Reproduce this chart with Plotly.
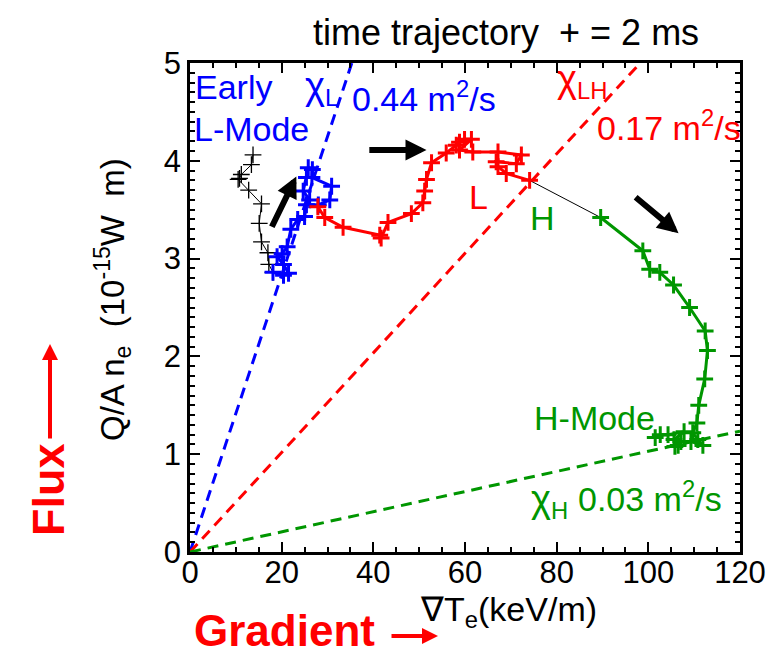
import plotly.graph_objects as go

# ---------------- data ----------------
black_x = [13.75, 13.4, 11.2, 10.8, 10.5, 12.8, 15.6, 15.1, 15.6, 17.0, 17.2, 18.1]
black_y = [4.06, 3.96, 3.86, 3.82, 3.81, 3.70, 3.56, 3.36, 3.17, 3.06, 2.94, 2.86]

blue_x = [18.1, 20.4, 21.5, 20.4, 19.0, 20.1, 21.2, 22.0, 23.5, 25.0, 25.4, 26.1,
          24.7, 25.4, 25.8, 26.7, 26.6, 30.9, 30.5, 28.0]
blue_y = [2.86, 2.83, 2.85, 2.94, 3.02, 3.05, 3.12, 3.30, 3.40, 3.43, 3.55, 3.60,
          3.69, 3.83, 3.93, 3.91, 3.83, 3.74, 3.60, 3.55]

red_x = [27.9, 29.4, 33.4, 41.4, 41.7, 43.2, 48.3, 50.8, 51.2, 51.6, 52.7, 55.9,
         58.1, 58.8, 59.9, 61.4, 58.8, 61.7, 67.2, 72.3, 71.2, 66.8, 67.2, 69.0, 74.1]
red_y = [3.53, 3.42, 3.32, 3.24, 3.21, 3.37, 3.46, 3.57, 3.69, 3.81, 3.98, 4.08,
         4.16, 4.19, 4.22, 4.22, 4.11, 4.09, 4.09, 4.06, 3.97, 3.99, 3.94, 3.87, 3.80]

green_x = [89.6, 98.8, 100.3, 102.5, 105.5, 109.0, 112.4, 112.9, 112.3, 111.0,
           110.6, 109.7, 110.8, 111.9, 109.3, 107.1, 105.8, 106.5, 105.6, 107.8,
           104.3, 102.6, 101.5]
green_y = [3.42, 3.08, 2.89, 2.86, 2.73, 2.50, 2.26, 2.06, 1.77, 1.50,
           1.32, 1.22, 1.15, 1.09, 1.13, 1.13, 1.08, 1.09, 1.15, 1.23,
           1.20, 1.20, 1.17]

# diffusivity reference lines: slope of flux vs gradient
slope_L = 0.1416
slope_LH = 0.0509
slope_H = 0.0103
line_x_L = [0, 35.3]
line_x_LH = [0, 98.2]
line_x_H = [0, 120]

BLUE = "#0000FF"
RED = "#FF0000"
GREEN = "#009600"
FONT = "Liberation Sans"

fig = go.Figure()

# dashed diffusivity lines
for lx, s, c in [(line_x_L, slope_L, BLUE), (line_x_LH, slope_LH, RED), (line_x_H, slope_H, GREEN)]:
    fig.add_trace(go.Scatter(x=lx, y=[v * s for v in lx], mode="lines",
                             line=dict(color=c, width=3, dash="11px,7px"),
                             hoverinfo="skip", showlegend=False, cliponaxis=False))

# thin black connectors between phases
fig.add_trace(go.Scatter(x=[blue_x[-1], red_x[0]], y=[blue_y[-1], red_y[0]], mode="lines",
                         line=dict(color="black", width=1), showlegend=False))
fig.add_trace(go.Scatter(x=[red_x[-1], green_x[0]], y=[red_y[-1], green_y[0]], mode="lines",
                         line=dict(color="black", width=1), showlegend=False))

# early black trajectory
fig.add_trace(go.Scatter(x=black_x, y=black_y, mode="lines+markers",
                         line=dict(color="black", width=1),
                         marker=dict(symbol="cross-thin", size=12, line=dict(color="black", width=1.3)),
                         showlegend=False))

for xs, ys, c in [(blue_x, blue_y, BLUE), (red_x, red_y, RED), (green_x, green_y, GREEN)]:
    fig.add_trace(go.Scatter(x=xs, y=ys, mode="lines+markers",
                             line=dict(color=c, width=3),
                             marker=dict(symbol="cross-thin", size=12, line=dict(color=c, width=3)),
                             showlegend=False))

annos = []
def txt(x, y, s, color, size=34, xanchor="left", xref="x", yref="y", angle=0, bold=False):
    annos.append(dict(x=x, y=y, xref=xref, yref=yref, text=("<b>%s</b>" % s) if bold else s,
                      showarrow=False, xanchor=xanchor, yanchor="middle", textangle=angle,
                      font=dict(family=FONT, size=size, color=color)))

# in-plot labels
txt(0.6, 4.75, "Early", BLUE)
txt(0.4, 4.33, "L-Mode", BLUE)
txt(24.6, 4.74, "<span style='font-size:38px'>χ</span><sub>L</sub>", BLUE)
txt(35.0, 4.66, "0.44 m<sup>2</sup>/s", BLUE)
txt(79.6, 4.82, "<span style='font-size:38px'>χ</span><sub>LH</sub>", RED)
txt(88.3, 4.36, "0.17 m<sup>2</sup>/s", RED)
txt(63.0, 3.63, "L", RED, xanchor="center")
txt(77.0, 3.42, "H", GREEN, xanchor="center")
txt(88.3, 1.37, "H-Mode", GREEN, xanchor="center")
txt(74.0, 0.52, "<span style='font-size:38px'>χ</span><sub>H</sub>", GREEN)
txt(84.2, 0.57, "0.03 m<sup>2</sup>/s", GREEN)

# outside labels (paper coordinates)
def px(p):
    return (p - 182) / 550.0
def py(p):
    return (544 - p) / 489.0

txt(px(498), py(24), "time trajectory  + = 2 ms", "black", size=36, xanchor="center", xref="paper", yref="paper")
txt(px(500), py(603), "∇T<sub>e</sub>(keV/m)", "black", size=34, xanchor="center", xref="paper", yref="paper")
txt(px(104), py(292), "Q/A n<sub>e</sub>  (10<sup>-15</sup>W  m)", "black", size=33, xanchor="center",
    xref="paper", yref="paper", angle=-90)
txt(px(184), py(622), "Gradient", RED, size=44, xref="paper", yref="paper", bold=True)
txt(px(40), py(482), "Flux", RED, size=45, xanchor="center", xref="paper", yref="paper", angle=-90, bold=True)

# red arrows outside
annos.append(dict(x=px(430), y=py(628), xref="paper", yref="paper", ax=-48, ay=0, axref="pixel", ayref="pixel",
                  showarrow=True, arrowhead=2, arrowsize=0.8, arrowwidth=4, arrowcolor=RED, text=""))
annos.append(dict(x=px(42), y=py(336), xref="paper", yref="paper", ax=0, ay=96, axref="pixel", ayref="pixel",
                  showarrow=True, arrowhead=2, arrowsize=0.8, arrowwidth=4, arrowcolor=RED, text=""))

# black direction arrows (data coordinates)
arrow_tail_x = [17.7, 38.8, 96.9]
arrow_tail_y = [3.31, 4.11, 3.64]
arrow_head_x = [23.2, 51.6, 106.6]
arrow_head_y = [3.84, 4.11, 3.26]
for tx, ty, hx, hy in zip(arrow_tail_x, arrow_tail_y, arrow_head_x, arrow_head_y):
    annos.append(dict(x=hx, y=hy, ax=tx, ay=ty, xref="x", yref="y", axref="x", ayref="y",
                      showarrow=True, arrowhead=2, arrowsize=0.7, arrowwidth=6, arrowcolor="black", text=""))

axis_common = dict(showline=True, linecolor="black", linewidth=2.5, mirror="allticks",
                   ticks="inside", ticklen=10, tickwidth=2, tickcolor="black",
                   showgrid=False, zeroline=False,
                   tickfont=dict(family=FONT, size=31, color="black"))

fig.update_layout(
    width=777, height=654,
    margin=dict(l=182, r=45, t=55, b=110),
    paper_bgcolor="white", plot_bgcolor="white",
    showlegend=False,
    annotations=annos,
    xaxis=dict(range=[0, 120], dtick=20, tick0=0, ticklabelstandoff=-9,
               minor=dict(dtick=5, ticks="inside", ticklen=5, tickwidth=1.5, tickcolor="black"),
               **axis_common),
    yaxis=dict(range=[0, 5], dtick=1, tick0=0,
               minor=dict(dtick=0.1, ticks="inside", ticklen=5, tickwidth=1.5, tickcolor="black"),
               **axis_common),
)

fig.write_html("out.html")
